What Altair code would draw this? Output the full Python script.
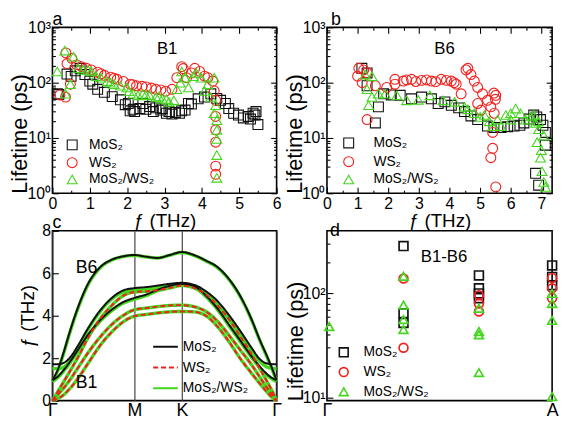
import altair as alt
import pandas as pd

FONT = "Liberation Sans"
BLACK = "#111111"
RED = "#f2201c"
GREEN = "#44d61e"
MATERIALS = ["MoS₂", "WS₂", "MoS₂/WS₂"]

# ---------------- panel a : B1 lifetimes ----------------
a_mos2_x = [0.13, 0.17, 0.39, 0.5, 0.61, 0.74, 0.87, 1.0, 1.08, 1.21,
            1.39, 1.6, 1.82, 1.95, 2.03, 2.08, 2.16, 2.2, 2.34, 2.42,
            2.5, 2.6, 2.7, 2.77, 2.9, 2.94, 3.05, 3.12, 3.2, 3.29,
            3.4, 3.46, 3.55, 3.64, 3.72, 3.9, 4.07, 4.24, 4.4, 4.5,
            4.63, 4.72, 4.85, 4.98, 5.11, 5.24, 5.37, 5.45, 5.5, 5.3, 5.42]
a_mos2_y = [63, 61, 143, 130, 164, 182, 140, 107, 94, 76,
            67, 56, 49, 40, 42, 31, 33, 30, 34, 42,
            33, 37, 30, 35, 32, 34, 28, 30, 27, 29,
            28, 31, 32, 42, 41, 51, 55, 63, 52, 48,
            42, 34, 28, 26, 23, 24.5, 28, 30, 17.5, 22, 26]
a_ws2_x = [0.2, 0.35, 0.36, 0.39, 0.48, 0.52, 0.65, 0.78, 0.91, 1.04,
           1.21, 1.39, 1.56, 1.73, 1.9, 2.08, 2.25, 2.51, 2.77, 3.03,
           3.2, 3.33, 3.46, 3.5, 3.59, 3.72, 3.81, 3.94, 4.07, 4.16,
           4.29, 4.33, 4.37, 4.37, 4.37, 4.37, 4.37, 4.37,
           1.3, 1.65, 2.15, 2.4, 2.65, 2.9]
a_ws2_y = [60, 55, 345, 222, 94, 275, 210, 195, 182, 170,
           155, 136, 126, 115, 105, 94, 88, 84, 76, 70,
           76, 123, 195, 180, 123, 150, 182, 160, 131, 123,
           107, 71, 48, 24.5, 14, 8.4, 3.1, 2.2,
           145, 120, 92, 86, 80, 74]
a_het_x = [0.13, 0.33, 0.35, 0.48, 0.56, 0.69, 0.82, 0.95, 1.04,
           1.17, 1.3, 1.47, 1.65, 1.82, 1.99, 2.16, 2.29, 2.42, 2.6,
           2.77, 2.94, 3.12, 3.25, 3.33, 3.42, 3.46, 3.55, 3.64, 3.77,
           3.85, 3.98, 4.07, 4.16, 4.24, 4.33, 4.33, 4.37, 4.4, 4.4,
           4.4, 4.4, 4.4, 1.55, 2.05, 2.5, 2.85, 3.05]
a_het_y = [159, 380, 63, 94, 295, 182, 170, 170, 159,
           131, 123, 107, 94, 88, 82, 63, 59, 63, 59,
           55, 51, 45, 48, 76, 100, 159, 123, 82, 131,
           150, 123, 71, 94, 55, 123, 28, 39, 21, 14,
           9.6, 4.9, 1.9, 100, 70, 60, 56, 50]

# ---------------- panel b : B6 lifetimes ----------------
b_mos2_x = [1.14, 1.31, 1.31, 1.58, 1.68, 1.85, 2.1, 2.39, 2.76, 3.09,
            3.41, 3.63, 3.85, 4.06, 4.3, 4.49, 4.7, 4.92, 5.24, 5.45,
            5.68, 5.9, 6.11, 6.3, 6.43, 6.6, 6.75, 6.85, 6.97, 7.05,
            7.13, 7.13, 6.81, 6.91]
b_mos2_y = [182, 150, 88, 18.7, 36.5, 63, 60, 59, 51, 55,
            51, 42, 45, 39, 35, 30, 25, 21.5, 16.4, 15.5,
            15.5, 16, 16.4, 17, 18.7, 22, 26, 24, 21.5, 17,
            12.6, 7.4, 2.3, 1.4]
b_ws2_x = [1.0, 1.04, 1.15, 1.2, 1.31, 1.31, 1.58, 1.95, 2.22, 2.22,
           2.49, 2.76, 3.09, 3.41, 3.73, 4.06, 4.22, 4.38, 4.54, 4.6,
           4.7, 4.81, 4.92, 4.92, 5.03, 5.08, 5.24, 5.35, 5.46, 5.51,
           5.41, 5.41, 5.35, 5.51,
           2.6, 2.9, 3.25, 3.55, 3.9, 4.15, 5.45, 5.5]
b_ws2_y = [131, 182, 100, 170, 150, 21.5, 88, 82, 115, 94,
           107, 115, 110, 107, 115, 107, 94, 63, 170, 182,
           140, 107, 82, 42, 32, 63, 48, 36.5, 28, 59,
           12.6, 6.5, 4.4, 1.3,
           112, 105, 112, 104, 110, 100, 65, 50]
b_het_x = [1.25, 1.47, 1.31, 1.36, 1.47, 1.68, 1.9, 2.28, 2.6, 2.98,
           3.36, 3.79, 4.17, 4.49, 4.81, 5.14, 5.41, 5.57, 5.68, 5.84,
           6.0, 6.0, 6.16, 6.32, 6.48, 6.65, 6.81, 6.86, 6.91, 6.97,
           7.02, 7.08, 7.08, 7.13,
           6.75, 6.9, 7.0, 5.0, 4.6, 5.3]
b_het_y = [140, 131, 76, 39, 55, 63, 63, 59, 48, 49,
           59, 48, 45, 36.5, 28, 26, 16.4, 21.5, 16.4, 26,
           21.5, 28, 34, 28, 21.5, 24.5, 18.7, 8.4, 14.4, 4.4,
           2.5, 11, 1.6, 1.3,
           26, 20, 6, 24, 33, 20]

# ---------------- panel c : dispersion along Γ-M-K-Γ ----------------
c_path = [0, 0.04, 0.08, 0.12, 0.18, 0.25, 0.33, 0.42, 0.50, 0.577, 0.66, 0.74,
          0.82, 0.91, 1.00, 1.08, 1.16, 1.24, 1.32, 1.40, 1.46, 1.51, 1.55, 1.577]
c_mos2 = {
    "m6": [0.97, 1.5, 2.3, 3.2, 4.4, 5.5, 6.25, 6.65, 6.8, 6.86, 6.78, 6.72,
           6.85, 7.0, 6.85, 6.6, 6.3, 5.75, 4.95, 3.85, 2.85, 2.1, 1.45, 0.97],
    "m5": [1.72, 1.72, 1.78, 2.0, 2.6, 3.4, 4.2, 4.85, 5.2, 5.3, 5.35, 5.42,
           5.5, 5.55, 5.45, 5.15, 4.7, 4.05, 3.3, 2.5, 1.95, 1.75, 1.72, 1.72],
    "m4": [0.97, 1.15, 1.45, 1.8, 2.4, 3.1, 3.75, 4.3, 4.65, 4.84, 5.0, 5.22,
           5.4, 5.5, 5.38, 4.95, 4.35, 3.6, 2.85, 2.1, 1.6, 1.25, 1.05, 0.97],
}
c_ws2 = {
    "w3": [0, 0.45, 0.9, 1.35, 2.05, 2.95, 3.8, 4.5, 4.95, 5.12, 5.15, 5.2,
           5.3, 5.42, 5.3, 5.0, 4.5, 3.85, 3.05, 2.2, 1.5, 0.9, 0.4, 0],
    "w2": [0, 0.3, 0.6, 0.95, 1.55, 2.25, 2.95, 3.6, 4.02, 4.28, 4.36, 4.43,
           4.48, 4.5, 4.42, 4.2, 3.75, 3.1, 2.4, 1.7, 1.1, 0.6, 0.25, 0],
    "w1": [0, 0.1, 0.28, 0.55, 1.05, 1.75, 2.55, 3.25, 3.72, 3.98, 4.06, 4.13,
           4.18, 4.2, 4.18, 4.0, 3.5, 2.8, 2.0, 1.3, 0.8, 0.4, 0.12, 0],
}
c_het = {
    "g6": [0.92, 1.45, 2.25, 3.15, 4.35, 5.45, 6.22, 6.63, 6.79, 6.84, 6.77, 6.72,
           6.84, 6.98, 6.83, 6.58, 6.27, 5.72, 4.92, 3.82, 2.82, 2.05, 1.4, 0.92],
    "g5": [1.51, 1.51, 1.58, 1.85, 2.5, 3.35, 4.15, 4.8, 5.12, 5.2, 5.25, 5.33,
           5.42, 5.47, 5.38, 5.1, 4.62, 3.98, 3.22, 2.42, 1.85, 1.58, 1.52, 1.51],
    "g4": [0.9, 1.1, 1.4, 1.75, 2.35, 3.05, 3.7, 4.25, 4.6, 4.78, 4.95, 5.18,
           5.35, 5.45, 5.32, 4.9, 4.3, 3.55, 2.8, 2.05, 1.55, 1.2, 1.0, 0.9],
    "g3": [0, 0.45, 0.9, 1.35, 2.05, 2.95, 3.8, 4.5, 4.95, 5.12, 5.15, 5.2,
           5.3, 5.42, 5.3, 5.0, 4.5, 3.85, 3.05, 2.2, 1.5, 0.9, 0.4, 0],
    "g2": [0, 0.3, 0.6, 0.95, 1.55, 2.25, 2.95, 3.6, 4.02, 4.28, 4.36, 4.43,
           4.48, 4.5, 4.42, 4.2, 3.75, 3.1, 2.4, 1.7, 1.1, 0.6, 0.25, 0],
    "g1": [0, 0.1, 0.28, 0.55, 1.05, 1.75, 2.55, 3.25, 3.72, 3.98, 4.06, 4.13,
           4.18, 4.2, 4.18, 4.0, 3.5, 2.8, 2.0, 1.3, 0.8, 0.4, 0.12, 0],
}
c_kpoints = [0, 0.5774, 0.9107, 1.5774]
c_klabels = ["Γ", "M", "K", "Γ"]

# ---------------- panel d : B1-B6 at Γ ... A ----------------
d_mos2_x = [0.34, 0.34, 0.34, 0.675, 0.675, 0.675, 0.675, 1.0, 1.0, 1.0]
d_mos2_y = [285, 64.5, 52, 149, 112, 100, 90, 186, 144, 120]
d_ws2_x = [0.34, 0.34, 0.675, 0.675, 0.675, 1.0, 1.0, 1.0]
d_ws2_y = [139, 30, 96, 80, 67, 141, 112, 90]
d_het_x = [0.01, 0.34, 0.34, 0.34, 0.34, 0.675, 0.675, 0.675, 0.675, 1.0, 1.0, 1.0, 1.0]
d_het_y = [48, 146, 77, 56, 45, 72, 43, 40, 17.3, 100, 80, 55, 10.2]

# ---------------- tick values ----------------
log_ticks_ab = [1, 2, 3, 4, 5, 6, 7, 8, 9, 10, 20, 30, 40, 50, 60, 70, 80, 90,
                100, 200, 300, 400, 500, 600, 700, 800, 900, 1000]
log_ticks_d = [10, 20, 30, 40, 50, 60, 70, 80, 90, 100, 200, 300]
x_ticks_a = [0, 0.5, 1, 1.5, 2, 2.5, 3, 3.5, 4, 4.5, 5, 5.5, 6]
x_ticks_b = [0, 0.5, 1, 1.5, 2, 2.5, 3, 3.5, 4, 4.5, 5, 5.5, 6, 6.5, 7]
y_ticks_c = [0, 1, 2, 3, 4, 5, 6, 7, 8]

# annotations
ann_a = pd.DataFrame({"x": [3.07], "y": [400], "t": ["B1"]})
ann_b = pd.DataFrame({"x": [3.84], "y": [413], "t": ["B6"]})
ann_c = pd.DataFrame({"x": [0.24, 0.24], "y": [6.25, 0.83], "t": ["B6", "B1"]})
ann_d = pd.DataFrame({"x": [0.52], "y": [225], "t": ["B1-B6"]})


def pts(groups):
    frames = []
    for xs, ys, m in groups:
        assert len(xs) == len(ys), m
        frames.append(pd.DataFrame({"x": xs, "y": ys, "material": m}))
    return pd.concat(frames, ignore_index=True)


def lines(curves, mat):
    frames = []
    for name, vals in curves.items():
        assert len(vals) == len(c_path), name
        frames.append(pd.DataFrame({"x": c_path, "y": vals, "branch": name, "material": mat}))
    return pd.concat(frames, ignore_index=True)


LOG_MAJOR = "(abs(log(datum.value)/LN10 - round(log(datum.value)/LN10)) < 0.01)"
LOG_LABEL = LOG_MAJOR + " ? '10' + ['⁰','¹','²','³'][round(log(datum.value)/LN10)] : ''"
LOG_TICK = {"expr": LOG_MAJOR + " ? -6 : -3"}
INT_TICK = {"expr": "datum.value % 1 === 0 ? -6 : -3"}
INT_LABEL = "datum.value % 1 === 0 ? format(datum.value, 'd') : ''"

color_scale = alt.Scale(domain=MATERIALS, range=[BLACK, RED, GREEN])
shape_scale = alt.Scale(domain=MATERIALS, range=["square", "circle", "triangle-up"])


def letter_title(letter, dx, offset):
    return alt.TitleParams(letter, anchor="start", frame="group", dx=dx, offset=offset,
                           fontSize=18, fontWeight="normal", font=FONT, color="black")


def point_legend(lx, ly, size, sw, offset, rowpad):
    return alt.Legend(orient="none", legendX=lx, legendY=ly, title=None,
                      labelFontSize=14, labelFont=FONT, symbolSize=size,
                      symbolStrokeWidth=sw, labelOffset=offset, rowPadding=rowpad,
                      padding=0)


def lifetime_axis(values):
    return alt.Axis(values=values, labelExpr=LOG_LABEL, tickSize=LOG_TICK, labelPadding=8,
                    labelFlush=False, labelOverlap=False, title="Lifetime (ps)", titleFontSize=22,
                    titleFontWeight="normal", titlePadding=-5, titleAnchor="start",
                    domain=False, grid=False, labelFontSize=16)


def scatter_panel(df, ann, xdom, xticks, w, h, leg, letter, ldx):
    xs = alt.Scale(domain=xdom, nice=False, zero=False)
    ys = alt.Scale(type="log", domain=[1, 1000], nice=False)
    points = alt.Chart(df).mark_point(filled=False, size=100, strokeWidth=1.1, opacity=1).encode(
        x=alt.X("x:Q", scale=xs, axis=alt.Axis(
            values=xticks, labelExpr=INT_LABEL, tickSize=INT_TICK, labelPadding=8,
            labelFlush=False, labelOverlap=False, title="ƒ (THz)", titleFontSize=19,
            titleFontWeight="normal", titlePadding=-2, domain=False, grid=False,
            labelFontSize=16)),
        y=alt.Y("y:Q", scale=ys, axis=lifetime_axis(log_ticks_ab)),
        color=alt.Color("material:N", scale=color_scale, legend=leg),
        shape=alt.Shape("material:N", scale=shape_scale, legend=leg),
    )
    mirror = alt.Chart(df).mark_point(opacity=0).encode(
        x=alt.X("x:Q", scale=xs, axis=alt.Axis(
            orient="top", values=xticks, labels=False, tickSize=INT_TICK,
            domain=False, grid=False, title=None)),
        y=alt.Y("y:Q", scale=ys, axis=alt.Axis(
            orient="right", values=log_ticks_ab, labels=False, tickSize=LOG_TICK,
            domain=False, grid=False, title=None)),
    )
    text = alt.Chart(ann).mark_text(font=FONT, fontSize=17, color="black").encode(
        x=alt.X("x:Q", scale=xs, axis=None),
        y=alt.Y("y:Q", scale=ys, axis=None),
        text="t:N",
    )
    return alt.layer(points, mirror, text).resolve_axis(x="independent", y="independent").properties(
        width=w, height=h, title=letter_title(letter, ldx, -10))


df_a = pts([(a_mos2_x, a_mos2_y, MATERIALS[0]), (a_ws2_x, a_ws2_y, MATERIALS[1]),
            (a_het_x, a_het_y, MATERIALS[2])])
df_b = pts([(b_mos2_x, b_mos2_y, MATERIALS[0]), (b_ws2_x, b_ws2_y, MATERIALS[1]),
            (b_het_x, b_het_y, MATERIALS[2])])
df_d = pts([(d_mos2_x, d_mos2_y, MATERIALS[0]), (d_ws2_x, d_ws2_y, MATERIALS[1]),
            (d_het_x, d_het_y, MATERIALS[2])])

W1, W2, H1, H2 = 227, 228, 168, 172

panel_a = scatter_panel(df_a, ann_a, [0, 6], x_ticks_a, W1, H1,
                        point_legend(13, 112, 100, 1.1, 10, 2), "a", 0)
panel_b = scatter_panel(df_b, ann_b, [0, 7.35], x_ticks_b, W2, H1,
                        point_legend(15, 110, 100, 1.1, 18, 3), "b", 4)

# ---- panel c ----
df_c_top = pd.concat([lines(c_mos2, MATERIALS[0]), lines(c_ws2, MATERIALS[1])], ignore_index=True)
df_c_het = lines(c_het, MATERIALS[2])
xs_c = alt.Scale(domain=[0, 1.5774], nice=False, zero=False)
ys_c = alt.Scale(domain=[0, 8], nice=False, zero=False)
dash_scale = alt.Scale(domain=MATERIALS, range=[[1, 0], [5, 3], [1, 0]])
leg_c = alt.Legend(orient="none", legendX=101, legendY=104, title=None, labelFontSize=14,
                   labelFont=FONT, symbolType="stroke", symbolSize=625, symbolStrokeWidth=2,
                   labelOffset=4, rowPadding=-5, padding=0)
x_axis_c = alt.Axis(values=c_kpoints,
                    labelExpr="datum.value < 0.1 ? 'Γ' : (datum.value < 0.7 ? 'M' : (datum.value < 1.2 ? 'K' : 'Γ'))",
                    ticks=False, grid=True, gridColor="#444444", gridWidth=1.2, labelFontSize=18,
                    labelPadding=1, labelFlush=False, labelOverlap=False, domain=False, title=None)
y_axis_c = alt.Axis(values=y_ticks_c, labelExpr="datum.value % 2 === 0 ? datum.label : ''",
                    tickSize=INT_TICK, labelPadding=8, labelFlush=False, labelOverlap=False,
                    title="ƒ (THz)", titleFontSize=19, titleFontWeight="normal", titlePadding=4,
                    domain=False, grid=False, labelFontSize=16)
het_lines = alt.Chart(df_c_het).mark_line(strokeWidth=3.4, interpolate="monotone").encode(
    x=alt.X("x:Q", scale=xs_c, axis=x_axis_c),
    y=alt.Y("y:Q", scale=ys_c, axis=y_axis_c),
    detail="branch:N",
    color=alt.Color("material:N", scale=color_scale, legend=leg_c),
    strokeDash=alt.StrokeDash("material:N", scale=dash_scale, legend=leg_c),
)
top_lines = alt.Chart(df_c_top).mark_line(strokeWidth=2, interpolate="monotone").encode(
    x=alt.X("x:Q", scale=xs_c),
    y=alt.Y("y:Q", scale=ys_c),
    detail="branch:N",
    color=alt.Color("material:N", scale=color_scale, legend=leg_c),
    strokeDash=alt.StrokeDash("material:N", scale=dash_scale, legend=leg_c),
)
text_c = alt.Chart(ann_c).mark_text(font=FONT, fontSize=18, color="black").encode(
    x=alt.X("x:Q", scale=xs_c), y=alt.Y("y:Q", scale=ys_c), text="t:N")
panel_c = alt.layer(het_lines, top_lines, text_c).properties(
    width=W1, height=H2, title=letter_title("c", 0, -9))

# ---- panel d ----
xs_d = alt.Scale(domain=[0, 1], nice=False, zero=False)
ys_d = alt.Scale(type="log", domain=[9.3, 400], nice=False)
leg_d = point_legend(10, 116, 80, 1.6, 13, 4)
pts_d = alt.Chart(df_d).mark_point(filled=False, size=80, strokeWidth=1.7, opacity=1).encode(
    x=alt.X("x:Q", scale=xs_d, axis=alt.Axis(
        values=[0, 1], labelExpr="datum.value < 0.5 ? 'Γ' : 'A'", ticks=False, labelFontSize=18,
        labelPadding=1, labelFlush=False, labelOverlap=False, domain=False, grid=False, title=None)),
    y=alt.Y("y:Q", scale=ys_d, axis=lifetime_axis(log_ticks_d)),
    color=alt.Color("material:N", scale=color_scale, legend=leg_d),
    shape=alt.Shape("material:N", scale=shape_scale, legend=leg_d),
)
text_d = alt.Chart(ann_d).mark_text(font=FONT, fontSize=17, color="black").encode(
    x=alt.X("x:Q", scale=xs_d), y=alt.Y("y:Q", scale=ys_d), text="t:N")
panel_d = alt.layer(pts_d, text_d).properties(
    width=W2, height=H2, title=letter_title("d", 3, -9))

chart = alt.concat(panel_a, panel_b, panel_c, panel_d, columns=2,
                   spacing={"row": 38, "column": 51}, bounds="flush").resolve_scale(
    color="independent", shape="independent", strokeDash="independent").resolve_legend(
    color="independent", shape="independent", strokeDash="independent").properties(
    padding={"left": 0, "right": 0, "top": 0, "bottom": 0}
).configure_view(stroke="black", strokeWidth=1.6).configure_axis(
    labelFont=FONT, titleFont=FONT, labelColor="black", titleColor="black",
    tickColor="black", tickWidth=1.1, titleFontWeight="normal"
).configure_legend(labelFont=FONT, labelColor="black")

chart.save("out.html", embed_options={"renderer": "svg", "actions": False})
